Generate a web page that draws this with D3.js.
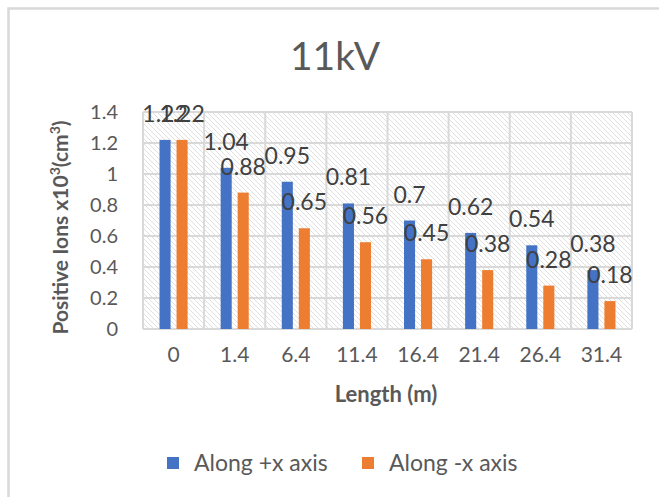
<!DOCTYPE html>
<html>
<head>
<meta charset="utf-8">
<script src="https://cdn.jsdelivr.net/npm/d3@7"></script>
<style>
  html, body { margin: 0; padding: 0; background: #ffffff; }
  svg { display: block; }
  text { font-family: Lato, "Open Sans", sans-serif; }
</style>
</head>
<body>
<svg id="chart" width="659" height="497"></svg>
<script>
// Positive ion concentration at 11kV, measured along both directions of the x axis
const categories = ["0", "1.4", "6.4", "11.4", "16.4", "21.4", "26.4", "31.4"];
const seriesNames = ["Along +x axis", "Along -x axis"];
const alongPlusX = [1.22, 1.04, 0.95, 0.81, 0.7, 0.62, 0.54, 0.38];
const alongMinusX = [1.22, 0.88, 0.65, 0.56, 0.45, 0.38, 0.28, 0.18];
const yTicks = [0, 0.2, 0.4, 0.6, 0.8, 1, 1.2, 1.4];
const colors = ["#4472C4", "#ED7D31"];

const svg = d3.select("#chart");
const plot = { left: 143, right: 632, top: 112, bottom: 329 };

// outer chart frame
svg.append("rect")
  .attr("x", 8.5).attr("y", 8.5)
  .attr("width", 720).attr("height", 600)
  .attr("fill", "#ffffff")
  .attr("stroke", "#d9d9d9").attr("stroke-width", 2.5);

// diagonal hatch fill for the plot area
const defs = svg.append("defs");
const pat = defs.append("pattern")
  .attr("id", "hatch").attr("patternUnits", "userSpaceOnUse")
  .attr("width", 5).attr("height", 5);
pat.append("rect").attr("width", 5).attr("height", 5).attr("fill", "#ffffff");
pat.append("path").attr("d", "M-1,-1 L6,6 M-1,4 L1,6 M4,-1 L6,1")
  .attr("stroke", "#e0e0e0").attr("stroke-width", 1);

const x0 = d3.scaleBand().domain(categories)
  .range([plot.left, plot.right]).padding(0);
const x1 = d3.scaleBand().domain(seriesNames)
  .range([0, x0.bandwidth()]).paddingInner(0.35).paddingOuter(0.97);
const y = d3.scaleLinear().domain([0, 1.4]).range([plot.bottom, plot.top]);

svg.append("rect")
  .attr("x", plot.left).attr("y", plot.top)
  .attr("width", plot.right - plot.left).attr("height", plot.bottom - plot.top)
  .attr("fill", "url(#hatch)");

// gridlines
const grid = svg.append("g").attr("stroke", "#d9d9d9").attr("stroke-width", 2);
yTicks.forEach(t => {
  grid.append("line")
    .attr("x1", plot.left).attr("x2", plot.right)
    .attr("y1", y(t)).attr("y2", y(t));
});
categories.forEach(c => {
  grid.append("line")
    .attr("x1", x0(c)).attr("x2", x0(c))
    .attr("y1", plot.top).attr("y2", plot.bottom);
});
grid.append("line")
  .attr("x1", plot.right).attr("x2", plot.right)
  .attr("y1", plot.top).attr("y2", plot.bottom);

// y axis labels
const yAxis = d3.axisLeft(y).tickValues(yTicks).tickSize(0).tickPadding(25)
  .tickFormat(d => String(d));
svg.append("g").attr("transform", `translate(${plot.left},0)`)
  .call(yAxis)
  .call(g => g.select(".domain").remove())
  .call(g => g.selectAll("text")
    .attr("fill", "#595959").style("font-size", "20px")
    .style("font-family", "Lato, 'Open Sans', sans-serif"));

// x axis labels
const xAxis = d3.axisBottom(x0).tickSize(0).tickPadding(18);
svg.append("g").attr("transform", `translate(0,${plot.bottom})`)
  .call(xAxis)
  .call(g => g.select(".domain").remove())
  .call(g => g.selectAll("text")
    .attr("fill", "#595959").style("font-size", "21px")
    .style("font-family", "Lato, 'Open Sans', sans-serif"));

// bars and value labels
const rows = categories.map((c, i) => ({ cat: c, values: [alongPlusX[i], alongMinusX[i]] }));
const groups = svg.append("g").selectAll("g").data(rows).join("g")
  .attr("transform", d => `translate(${x0(d.cat)},0)`);
groups.selectAll("rect")
  .data(d => d.values.map((v, k) => ({ name: seriesNames[k], v, k })))
  .join("rect")
  .attr("x", d => x1(d.name))
  .attr("width", x1.bandwidth())
  .attr("y", d => y(d.v))
  .attr("height", d => y(0) - y(d.v))
  .attr("fill", d => colors[d.k]);

const labels = svg.append("g");
rows.forEach(r => {
  r.values.forEach((v, k) => {
    labels.append("text")
      .attr("x", x0(r.cat) + x1(seriesNames[k]) + x1.bandwidth() / 2)
      .attr("y", y(v) - 18)
      .attr("text-anchor", "middle")
      .attr("fill", "#404040")
      .style("font-size", "23px")
      .text(String(v));
  });
});

// title
svg.append("text")
  .attr("x", 335).attr("y", 70)
  .attr("text-anchor", "middle")
  .attr("fill", "#595959")
  .style("font-size", "39px")
  .text("11kV");

// axis titles
const yTitle = svg.append("text")
  .attr("transform", `translate(68,${(plot.top + plot.bottom) / 2 + 7}) rotate(-90)`)
  .attr("text-anchor", "middle")
  .attr("fill", "#595959")
  .style("font-size", "21px").style("font-weight", "bold");
yTitle.append("tspan").text("Positive Ions x10");
yTitle.append("tspan").attr("dy", -8).style("font-size", "14px").text("3");
yTitle.append("tspan").attr("dy", 8).text("(cm");
yTitle.append("tspan").attr("dy", -8).style("font-size", "14px").text("3");
yTitle.append("tspan").attr("dy", 8).text(")");

svg.append("text")
  .attr("x", 386).attr("y", 402)
  .attr("text-anchor", "middle")
  .attr("fill", "#595959")
  .style("font-size", "22px").style("font-weight", "bold")
  .text("Length (m)");

// legend
const legend = svg.append("g");
const legendX = [167, 362];
seriesNames.forEach((name, k) => {
  legend.append("rect")
    .attr("x", legendX[k]).attr("y", 457)
    .attr("width", 12).attr("height", 12)
    .attr("fill", colors[k]);
  legend.append("text")
    .attr("x", legendX[k] + 27).attr("y", 471)
    .attr("fill", "#595959")
    .style("font-size", "23px")
    .text(name);
});
</script>
</body>
</html>
